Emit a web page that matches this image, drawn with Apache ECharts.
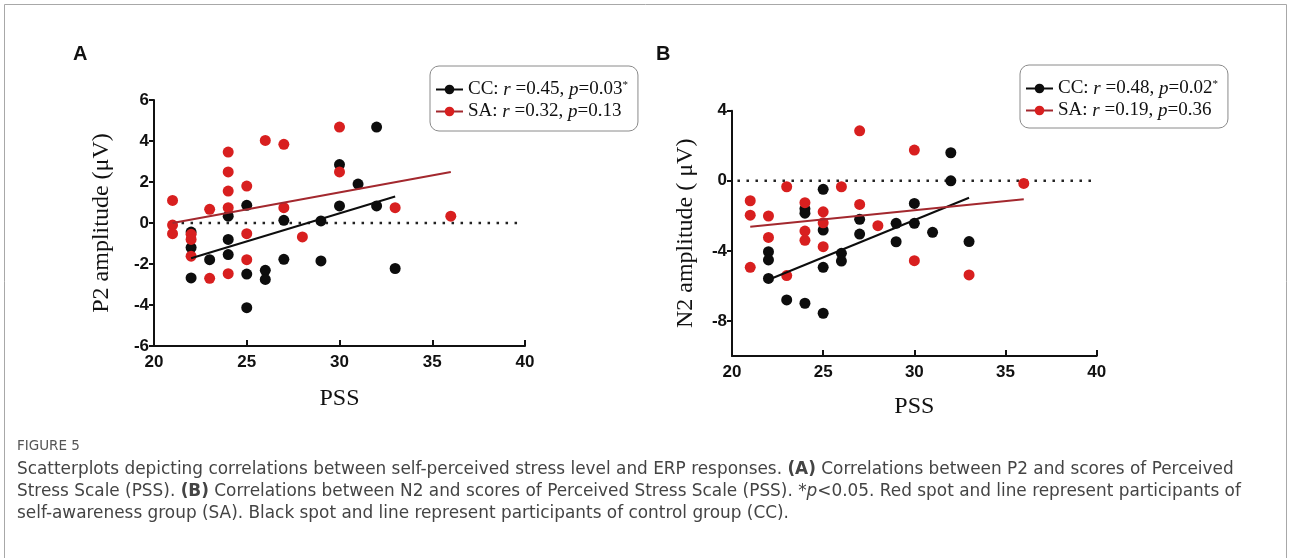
<!DOCTYPE html>
<html>
<head>
<meta charset="utf-8">
<script src="https://cdn.jsdelivr.net/npm/echarts@6/dist/echarts.min.js"></script>
<style>
  html, body { margin: 0; padding: 0; background: #fff; }
  #main { width: 1290px; height: 558px; }
</style>
</head>
<body>
<div id="main"></div>
<script>
// panel A: P2 amplitude vs PSS
var ccA = [
  [22,-0.44],[22,-1.2],[22,-2.68],[23,-1.79],[24,0.33],[24,-0.8],[24,-1.54],
  [25,0.86],[25,-2.49],[25,-4.13],[26,-2.31],[26,-2.75],[27,0.13],[27,-1.77],
  [29,0.1],[29,-1.85],[30,2.85],[30,0.83],[31,1.9],[32,4.68],[32,0.83],[33,-2.22]
];
var saA = [
  [21,1.1],[21,-0.1],[21,-0.52],[22,-0.55],[22,-0.8],[22,-1.62],[23,0.67],[23,-2.7],
  [24,3.46],[24,2.49],[24,1.56],[24,0.75],[24,-2.47],[25,1.8],[25,-0.52],[25,-1.79],
  [26,4.03],[27,3.84],[27,0.75],[28,-0.68],[30,4.68],[30,2.49],[33,0.75],[36,0.33]
];
var fitCcA = [[22,-1.72],[33,1.29]];
var fitSaA = [[21,0.0],[36,2.49]];
var zeroA = [[21,0],[39.6,0]];

// panel B: N2 amplitude vs PSS
var ccB = [
  [22,-4.05],[22,-4.52],[22,-5.57],[23,-6.8],[24,-1.6],[24,-1.85],[24,-6.99],
  [25,-0.49],[25,-2.81],[25,-4.94],[25,-7.56],[26,-4.14],[26,-4.58],[27,-2.2],[27,-3.04],
  [29,-2.43],[29,-3.48],[30,-1.29],[30,-2.43],[31,-2.94],[32,1.6],[32,0],[33,-3.47]
];
var saB = [
  [21,-1.14],[21,-1.96],[21,-4.94],[22,-2.01],[22,-3.23],[23,-0.34],[23,-5.41],
  [24,-1.25],[24,-2.87],[24,-3.4],[25,-1.77],[25,-2.4],[25,-3.76],[26,-0.34],
  [27,2.85],[27,-1.35],[28,-2.56],[30,1.75],[30,-4.56],[33,-5.37],[36,-0.15]
];
var fitCcB = [[22,-5.65],[33,-0.97]];
var fitSaB = [[21,-2.62],[36,-1.06]];
var zeroB = [[20.3,0],[39.8,0]];
var yTicksB = [-8,-4,0,4];

var legendText = {
  'CC-A': 'CC: {i|r} =0.45, {i|p}=0.03{s|*}',
  'SA-A': 'SA: {i|r} =0.32, {i|p}=0.13',
  'CC-B': 'CC: {i|r} =0.48, {i|p}=0.02{s|*}',
  'SA-B': 'SA: {i|r} =0.19, {i|p}=0.36'
};

var captionLines = [
  'Scatterplots depicting correlations between self-perceived stress level and ERP responses. {b|(A)} Correlations between P2 and scores of Perceived',
  'Stress Scale (PSS). {b|(B)} Correlations between N2 and scores of Perceived Stress Scale (PSS). *{i|p}<0.05. Red spot and line represent participants of',
  'self-awareness group (SA). Black spot and line represent participants of control group (CC).'
];

var RED = '#d81f1f', RED_LINE = '#a3282e', BLACK = '#0d0d0d';
var serif = 'Liberation Serif';
var sans = 'Liberation Sans';
var capFont = 'DejaVu Sans';

function xAxisOf(grid, gap) {
  return {
    type: 'value', gridIndex: grid, min: 20, max: 40, interval: 5,
    name: 'PSS', nameLocation: 'middle', nameGap: gap,
    nameTextStyle: { fontFamily: serif, fontSize: 24, color: '#111' },
    axisLine: { onZero: false, lineStyle: { color: '#111', width: 2 } },
    axisTick: { inside: true, length: 6, lineStyle: { color: '#111', width: 2 } },
    axisLabel: { color: '#111', fontFamily: sans, fontWeight: 'bold', fontSize: 17, margin: 8 },
    splitLine: { show: false }
  };
}

function fitLine(name, data, color, xi) {
  return {
    name: name, type: 'line', xAxisIndex: xi, yAxisIndex: xi, data: data,
    symbol: 'circle', symbolSize: 9, showSymbol: false, z: 4,
    lineStyle: { color: color, width: 2 }, itemStyle: { color: color === BLACK ? BLACK : RED },
    silent: true
  };
}
function dots(name, data, color, xi, z) {
  return {
    name: name, type: 'scatter', xAxisIndex: xi, yAxisIndex: xi, data: data,
    symbolSize: 11, z: z, itemStyle: { color: color, opacity: 1 }
  };
}
function zero(data, xi) {
  return {
    type: 'line', xAxisIndex: xi, yAxisIndex: xi, data: data, showSymbol: false, silent: true, z: 1,
    lineStyle: { color: '#222', width: 2.5, type: [2.5, 6.5] }
  };
}

var legendBase = {
  orient: 'vertical', itemWidth: 27, itemHeight: 12, itemGap: 3,
  borderColor: '#8a8a8a', borderWidth: 1, borderRadius: 9,
  padding: [14, 10, 10, 5],
  formatter: function (n) { return legendText[n]; },
  textStyle: {
    fontFamily: serif, fontSize: 19, color: '#111',
    rich: {
      i: { fontFamily: serif, fontSize: 19, fontStyle: 'italic', color: '#111' },
      s: { fontFamily: serif, fontSize: 11, color: '#111', verticalAlign: 'top' }
    }
  }
};

var captionGraphics = [
  { type: 'rect', shape: { x: 4.5, y: 4.5, width: 1282, height: 620 }, style: { fill: 'none', stroke: '#a8a8a8', lineWidth: 1 }, silent: true },
  { type: 'text', x: 17, y: 446, style: { text: 'FIGURE 5', fontFamily: capFont, fontSize: 13.5, fill: '#555', verticalAlign: 'middle' } }
];
captionLines.forEach(function (t, i) {
  captionGraphics.push({
    type: 'text', x: 17, y: 470 + i * 22,
    style: {
      text: t, fontFamily: capFont, fontSize: 16.9, fill: '#444', verticalAlign: 'middle',
      rich: {
        b: { fontFamily: capFont, fontSize: 16.9, fontWeight: 'bold', fill: '#444' },
        i: { fontFamily: capFont, fontSize: 16.9, fontStyle: 'italic', fill: '#444' }
      }
    }
  });
});

var option = {
  backgroundColor: '#fff',
  animation: false,
  title: [
    { text: 'A', left: 68, top: 39, textStyle: { fontFamily: sans, fontWeight: 'bold', fontSize: 20, color: '#111' } },
    { text: 'B', left: 651, top: 39, textStyle: { fontFamily: sans, fontWeight: 'bold', fontSize: 20, color: '#111' } }
  ],
  grid: [
    { left: 154, top: 100, width: 371, height: 246, outerBoundsMode: 'none' },
    { left: 732, top: 110.7, width: 364.7, height: 245.3, outerBoundsMode: 'none' }
  ],
  legend: [
    Object.assign({}, legendBase, { left: 430, top: 66, data: ['CC-A', 'SA-A'] }),
    Object.assign({}, legendBase, { left: 1020, top: 65, padding: [14, 10, 8, 5], data: ['CC-B', 'SA-B'] })
  ],
  xAxis: [ xAxisOf(0, 41), xAxisOf(1, 39) ],
  yAxis: [
    {
      type: 'value', gridIndex: 0, min: -6, max: 6, interval: 2,
      name: 'P2 amplitude (μV)', nameLocation: 'middle', nameGap: 40,
      nameTextStyle: { fontFamily: serif, fontSize: 24, color: '#111' },
      axisLine: { onZero: false, lineStyle: { color: '#111', width: 2 } },
      axisTick: { length: 5, lineStyle: { color: '#111', width: 2 } },
      axisLabel: { color: '#111', fontFamily: sans, fontWeight: 'bold', fontSize: 17, margin: 5 },
      splitLine: { show: false }
    },
    {
      type: 'value', gridIndex: 1, min: -10, max: 4,
      name: 'N2 amplitude ( μV)', nameLocation: 'middle', nameGap: 34,
      nameTextStyle: { fontFamily: serif, fontSize: 24, color: '#111' },
      axisLine: { onZero: false, lineStyle: { color: '#111', width: 2 } },
      axisTick: { length: 5, customValues: yTicksB, lineStyle: { color: '#111', width: 2 } },
      axisLabel: { color: '#111', fontFamily: sans, fontWeight: 'bold', fontSize: 17, margin: 5, customValues: yTicksB },
      splitLine: { show: false }
    }
  ],
  graphic: captionGraphics,
  series: [
    fitLine('CC-A', fitCcA, BLACK, 0),
    fitLine('SA-A', fitSaA, RED_LINE, 0),
    zero(zeroA, 0),
    dots('CC-A', ccA, BLACK, 0, 2),
    dots('SA-A', saA, RED, 0, 3),
    fitLine('CC-B', fitCcB, BLACK, 1),
    fitLine('SA-B', fitSaB, RED_LINE, 1),
    zero(zeroB, 1),
    dots('CC-B', ccB, BLACK, 1, 2),
    dots('SA-B', saB, RED, 1, 3)
  ]
};

var myChart = echarts.init(document.getElementById('main'));
myChart.setOption(option);
window.addEventListener('resize', function () { myChart.resize(); });
</script>
</body>
</html>
